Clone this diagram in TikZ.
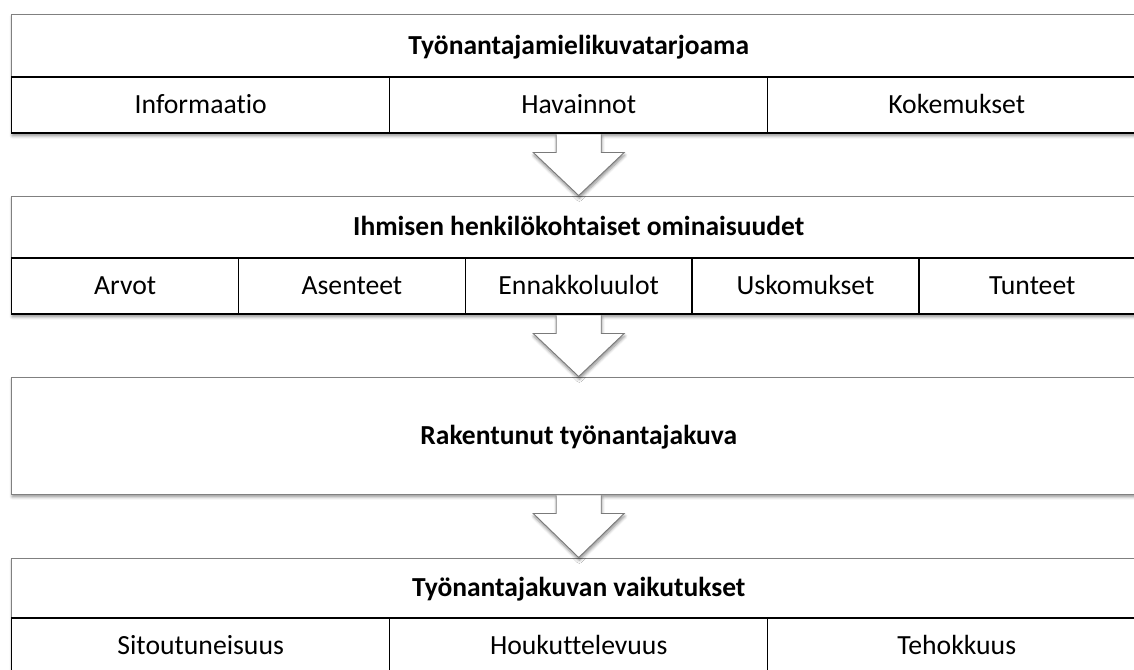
\documentclass[tikz,border=0pt]{standalone}
\usepackage{fontspec}
\setmainfont{Carlito}[Ligatures=NoCommon]
\usetikzlibrary{calc,shadows.blur}

\definecolor{panelgray}{HTML}{808080}
\definecolor{arrowgray}{HTML}{7A7A7A}

% block arrow from the bottom of panel #1 down to the top of panel #2
\newcommand\flowarrow[2]{%
  \fill[white, softshadow]
    ($(#1.south)+(-22.5,0.8)$) -- ($(#1.south)+(-22.5,19)$) -- ($(#1.south)+(-45.5,19)$)
    -- (#2.north) -- ($(#1.south)+(45.5,19)$) -- ($(#1.south)+(22.5,19)$)
    -- ($(#1.south)+(22.5,0.8)$) -- cycle;
  \draw[arrowline]
    ($(#1.south)+(-22.5,0.8)$) -- ($(#1.south)+(-22.5,19)$) -- ($(#1.south)+(-45.5,19)$)
    -- (#2.north) -- ($(#1.south)+(45.5,19)$) -- ($(#1.south)+(22.5,19)$)
    -- ($(#1.south)+(22.5,0.8)$);
}

\begin{document}
\begin{tikzpicture}[x=1pt,y=-1pt,
  font=\fontsize{27.7}{33}\selectfont,
  softshadow/.style={blur shadow={shadow xshift=0.6pt, shadow yshift=-2.8pt,
      shadow blur radius=3pt, shadow blur steps=6, shadow opacity=45}},
  panel/.style={rectangle, draw=panelgray, line width=0.9pt, fill=white,
      inner sep=0pt, minimum width=1134pt, softshadow},
  head/.style={inner sep=0pt, text height=17.8pt, text depth=0pt,
      font=\fontsize{27.5}{33}\selectfont\bfseries},
  cell/.style={rectangle, draw=black, line width=1.4pt, inner sep=0pt,
      minimum height=56pt, text height=17.8pt, text depth=0pt},
  arrowline/.style={draw=arrowgray, line width=0.9pt, line join=miter},
]
\useasboundingbox (0,0) rectangle (1134,669);

% panel 1
\node[panel, minimum height=119pt] (b1) at (578.7,73.5) {};
\node[head] (t1) at (578.7,45.5) {Työnantajamielikuvatarjoama};
\node[cell, minimum width=378pt] (c11) at (200.7,105) {Informaatio};
\node[cell, minimum width=378pt] (c12) at (578.7,105) {Havainnot};
\node[cell, minimum width=378pt] (c13) at (956.7,105) {Kokemukset};

% panel 2
\node[panel, minimum height=118pt] (b2) at (578.7,255) {};
\node[head] (t2) at (578.7,227) {Ihmisen henkilökohtaiset ominaisuudet};
\node[cell, minimum width=226.8pt] (c21) at (125.1,286) {Arvot};
\node[cell, minimum width=226.8pt] (c22) at (351.9,286) {Asenteet};
\node[cell, minimum width=226.8pt] (c23) at (578.7,286) {Ennakkoluulot};
\node[cell, minimum width=226.8pt] (c24) at (805.5,286) {Uskomukset};
\node[cell, minimum width=226.8pt] (c25) at (1032.3,286) {Tunteet};

% panel 3
\node[panel, minimum height=117pt] (b3) at (578.7,435.5) {};
\node[head] (t3) at (578.7,435.5) {Rakentunut työnantajakuva};

% panel 4
\node[panel, minimum height=116pt] (b4) at (578.7,616) {};
\node[head] (t4) at (578.7,588) {Työnantajakuvan vaikutukset};
\node[cell, minimum width=378pt] (c41) at (200.7,646) {Sitoutuneisuus};
\node[cell, minimum width=378pt] (c42) at (578.7,646) {Houkuttelevuus};
\node[cell, minimum width=378pt] (c43) at (956.7,646) {Tehokkuus};

% arrows between the panels
\flowarrow{b1}{b2}
\flowarrow{b2}{b3}
\flowarrow{b3}{b4}
\end{tikzpicture}
\end{document}
